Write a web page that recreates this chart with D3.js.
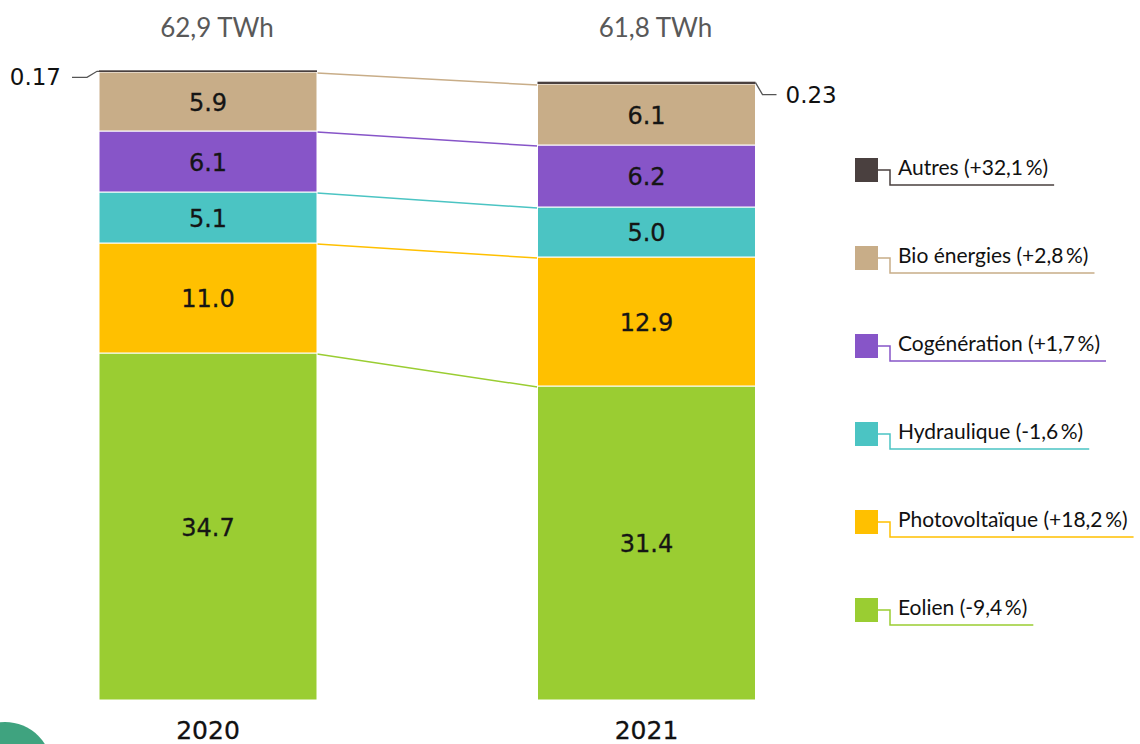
<!DOCTYPE html>
<html><head><meta charset="utf-8">
<script src="https://cdn.jsdelivr.net/npm/d3@7"></script>
<style>html,body{margin:0;padding:0;background:#fff;}svg{display:block;}</style>
</head><body>
<svg id="chart" width="1140" height="744"></svg>
<script>
const years = ["2020", "2021"];
const totals = ["62,9 TWh", "61,8 TWh"];
const series = ["Eolien", "Photovoltaïque", "Hydraulique", "Cogénération", "Bio énergies", "Autres"];
const values2020 = [34.7, 11.0, 5.1, 6.1, 5.9, 0.17];
const values2021 = [31.4, 12.9, 5.0, 6.2, 6.1, 0.23];
const changes = ["-9,4\u2009%", "+18,2\u2009%", "-1,6\u2009%", "+1,7\u2009%", "+2,8\u2009%", "+32,1\u2009%"];
const colors = ["#9acd32", "#ffc000", "#4bc4c3", "#8755c8", "#c8ad88", "#4a403f"];

const svg = d3.select("#chart");
const barW = 218;
const x = d3.scalePoint().domain(years).range([208, 646.5]);
const y = d3.scaleLinear().domain([0, 62.9]).range([700, 71]);
const numFont = "DejaVu Sans, sans-serif";

const rows = years.map((yr, j) => {
  const vals = j === 0 ? values2020 : values2021;
  let acc = 0;
  return series.map((s, i) => {
    const y0 = acc; acc += vals[i];
    return {year: yr, series: s, i, v: vals[i], y0, y1: acc};
  });
});

// decorative circle bottom-left
svg.append("circle").attr("cx", 5).attr("cy", 769).attr("r", 47).attr("fill", "#3fa37f");

// connectors
series.forEach((s, i) => {
  if (i === series.length - 1) return;
  const a = rows[0][i], b = rows[1][i];
  svg.append("line")
    .attr("x1", x(years[0]) + barW / 2).attr("y1", y(a.y1) + 1)
    .attr("x2", x(years[1]) - barW / 2).attr("y2", y(b.y1) + 1)
    .attr("stroke", colors[i]).attr("stroke-width", 1.5);
});

// bars
rows.forEach(col => {
  col.forEach(d => {
    const last = d.i === series.length - 1;
    svg.append("rect")
      .attr("x", x(d.year) - barW / 2)
      .attr("y", y(d.y1))
      .attr("width", barW)
      .attr("height", Math.max(y(d.y0) - y(d.y1), 0))
      .attr("fill", colors[d.i])
      .attr("stroke", last ? "none" : "#fff")
      .attr("stroke-width", last ? 0 : 1);
    if (!last) {
      svg.append("text")
        .attr("x", x(d.year))
        .attr("y", (y(d.y0) + y(d.y1)) / 2 + 9)
        .attr("text-anchor", "middle")
        .attr("font-family", numFont)
        .attr("font-size", 24)
        .attr("fill", "#151515")
        .attr("stroke", "#151515").attr("stroke-width", 0.3)
        .text(d.v.toFixed(1));
    }
  });
});

// Autres labels with leader lines
const a0 = rows[0][5], a1 = rows[1][5];
const left0 = x(years[0]) - barW / 2;
const ya0 = y(a0.y1) + 1;
svg.append("path")
  .attr("d", `M${left0 - 27},${ya0 + 6} L${left0 - 12},${ya0 + 6} L${left0 - 2},${ya0} L${left0},${ya0}`)
  .attr("fill", "none").attr("stroke", "#555").attr("stroke-width", 1.3);
svg.append("text").attr("x", 61).attr("y", ya0 + 14).attr("text-anchor", "end")
  .attr("font-family", numFont).attr("font-size", 23).attr("fill", "#111")
  .text(a0.v.toFixed(2));
const right1 = x(years[1]) + barW / 2;
const ya1 = y(a1.y1) + 1;
svg.append("path")
  .attr("d", `M${right1},${ya1} L${right1 + 7},${ya1 + 12} L${right1 + 21},${ya1 + 12}`)
  .attr("fill", "none").attr("stroke", "#555").attr("stroke-width", 1.3);
svg.append("text").attr("x", right1 + 30).attr("y", ya1 + 20)
  .attr("font-family", numFont).attr("font-size", 23).attr("fill", "#111")
  .text(a1.v.toFixed(2));

// totals and years
years.forEach((yr, j) => {
  svg.append("text").attr("x", x(yr) + 9).attr("y", 37).attr("text-anchor", "middle")
    .attr("font-family", "Lato, sans-serif").attr("font-size", 26).attr("fill", "#595959")
    .text(totals[j]);
  svg.append("text").attr("x", x(yr)).attr("y", 739).attr("text-anchor", "middle")
    .attr("font-family", numFont).attr("font-size", 25).attr("fill", "#111")
    .attr("stroke", "#111").attr("stroke-width", 0.3)
    .text(yr);
});

// legend (top to bottom: Autres ... Eolien)
const legOrder = d3.range(series.length).reverse();
const ly = d3.scalePoint().domain(legOrder).range([158, 598]);
legOrder.forEach(i => {
  const top = ly(i);
  const g = svg.append("g");
  g.append("rect").attr("x", 855).attr("y", top).attr("width", 23).attr("height", 24).attr("fill", colors[i]);
  const t = g.append("text").attr("x", 898).attr("y", top + 17)
    .attr("font-family", "Lato, sans-serif").attr("font-size", 21).attr("fill", "#111")
    .text(`${series[i]} (${changes[i]})`);
  const w = t.node().getComputedTextLength();
  const end = Math.min(898 + w + 6, 1138);
  g.append("path")
    .attr("d", `M878,${top + 12} L890,${top + 12} L890,${top + 27} L${end},${top + 27}`)
    .attr("fill", "none").attr("stroke", colors[i]).attr("stroke-width", 1.5);
});
</script>
</body></html>
